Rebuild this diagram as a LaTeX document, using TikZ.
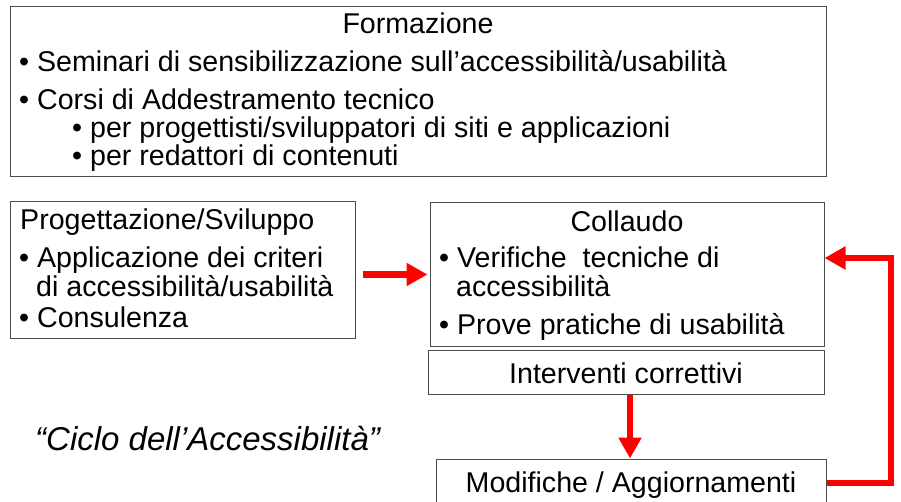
\documentclass[tikz,border=0pt]{standalone}
\usepackage{fontspec}
\setmainfont{Liberation Sans}
\usetikzlibrary{arrows.meta}
\newcommand{\slidefont}{\fontsize{28.6}{34}\selectfont}
\begin{document}
\begin{tikzpicture}[x=1pt,y=-1pt,
	box/.style={draw=black!70,line width=1pt,inner sep=0pt},
	line/.style={inner sep=0pt,anchor=base west,font=\slidefont},
	title/.style={inner sep=0pt,anchor=base,font=\slidefont},
	redarrow/.style={draw=red,line width=6.5pt,-{Triangle[length=21pt,width=22pt]}}]
	\useasboundingbox (0,0) rectangle (901,502);
	% boxes
	\node[box,minimum width=816,minimum height=170] (formazione) at (418,92) {};
	\node[box,minimum width=345,minimum height=136] (progetto) at (182.5,270) {};
	\node[box,minimum width=394,minimum height=143] (collaudo) at (627,274.5) {};
	\node[box,minimum width=396,minimum height=44] (interventi) at (626,372) {};
	\node[box,minimum width=390,minimum height=48] (modifiche) at (631,483) {};
	% texts
	\node[title] (tform) at (418,34) {Formazione};
	\node[line] (tsem) at (19,72) {• Seminari di sensibilizzazione sull’accessibilità/usabilità};
	\node[line] (tcorsi) at (19,110) {• Corsi di Addestramento tecnico};
	\node[line] (tprog) at (72,138) {• per progettisti/sviluppatori di siti e applicazioni};
	\node[line] (tred) at (72,166) {• per redattori di contenuti};
	\node[line] (tsvil) at (20,230) {Progettazione/Sviluppo};
	\node[line] (tappl) at (19,268) {• Applicazione dei criteri};
	\node[line] (tcrit) at (36,297) {di accessibilità/usabilità};
	\node[line] (tcons) at (19,327) {• Consulenza};
	\node[title] (tcoll) at (627,232) {Collaudo};
	\node[line] (tver) at (439,268) {• Verifiche~ tecniche di};
	\node[line] (tacc) at (456,297) {accessibilità};
	\node[line] (tprove) at (439,334) {• Prove pratiche di usabilità};
	\node[title] (tint) at (626,383) {Interventi correttivi};
	\node[title] (tmod) at (631,492) {Modifiche / Aggiornamenti};
	\node[line,font=\fontsize{33}{39}\selectfont\itshape] (ciclo) at (35,450) {“Ciclo dell’Accessibilità”};
	% arrows
	\coordinate (giro) at (891,258);
	\draw[redarrow,shorten <=7pt,shorten >=2pt] (progetto.east |- collaudo.west) -- (collaudo.west);
	\draw[redarrow] ([xshift=4pt]interventi.south) -- ([xshift=4pt]interventi.south |- modifiche.north);
	\draw[redarrow] (modifiche.east) -| (giro) -- (collaudo.east |- giro);
\end{tikzpicture}
\end{document}
